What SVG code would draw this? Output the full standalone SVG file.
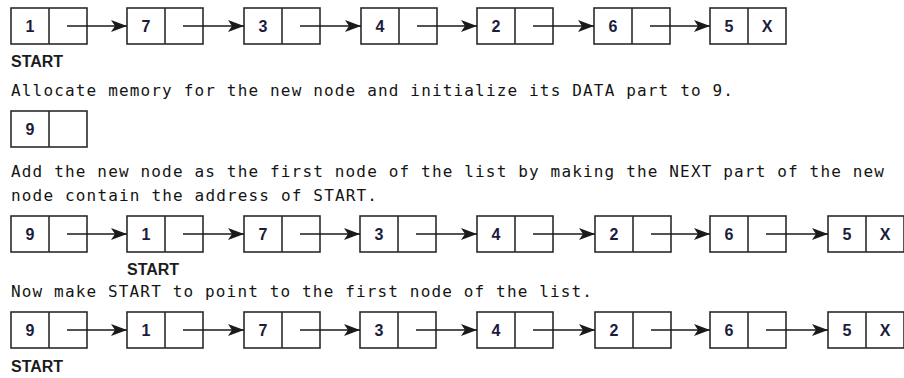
<svg xmlns="http://www.w3.org/2000/svg" width="904" height="378" viewBox="0 0 904 378">
  <style>
    .cell { fill: #ffffff; stroke: #2b2b2b; stroke-width: 1.6; }
    .div { stroke: #2b2b2b; stroke-width: 1.6; }
    .val { font-family: "Liberation Sans", Arial, sans-serif; font-weight: bold; font-size: 16px; fill: #1c1c3c; text-anchor: middle; }
    .lbl { font-family: "Liberation Sans", Arial, sans-serif; font-weight: bold; font-size: 16px; fill: #1c1c1c; }
    .note { font-family: "DejaVu Sans Mono", "Liberation Mono", monospace; font-size: 16px; fill: #141414; }
    .link { stroke: #1a1a1a; stroke-width: 1.5; fill: none; marker-end: url(#head); }
  </style>
  <defs>
    <marker id="head" markerUnits="userSpaceOnUse" viewBox="0 0 16 12" refX="16" refY="6" markerWidth="16" markerHeight="12" orient="auto">
      <path d="M0,0 L16,6 L0,12 L4,6 Z" fill="#1a1a1a"/>
    </marker>
    <!-- two-cell list node: DATA | NEXT -->
    <g id="cellpair">
      <rect class="cell" x="0" y="0" width="76" height="36"/>
      <line class="div" x1="38" y1="0" x2="38" y2="36"/>
    </g>
  </defs>

  <!-- captions -->
  <g id="captions">
    <text class="lbl" x="11" y="67">START</text>
    <text class="note" x="11" y="96" textLength="722" lengthAdjust="spacing">Allocate memory for the new node and initialize its DATA part to 9.</text>
    <text class="note" x="11" y="177" textLength="873" lengthAdjust="spacing">Add the new node as the first node of the list by making the NEXT part of the new</text>
    <text class="note" x="11" y="201" textLength="366" lengthAdjust="spacing">node contain the address of START.</text>
    <text class="lbl" x="127" y="275">START</text>
    <text class="note" x="11" y="297" textLength="581" lengthAdjust="spacing">Now make START to point to the first node of the list.</text>
    <text class="lbl" x="11" y="372">START</text>
  </g>

  <!-- row 1: original list -->
  <g id="r1n1"><use href="#cellpair" x="11" y="8"/><text class="val" x="30" y="32">1</text></g>
  <g id="r1n2"><use href="#cellpair" x="127" y="8"/><text class="val" x="146" y="32">7</text></g>
  <g id="r1n3"><use href="#cellpair" x="244" y="8"/><text class="val" x="263" y="32">3</text></g>
  <g id="r1n4"><use href="#cellpair" x="361" y="8"/><text class="val" x="380" y="32">4</text></g>
  <g id="r1n5"><use href="#cellpair" x="477" y="8"/><text class="val" x="496" y="32">2</text></g>
  <g id="r1n6"><use href="#cellpair" x="594" y="8"/><text class="val" x="613" y="32">6</text></g>
  <g id="r1n7"><use href="#cellpair" x="710" y="8"/><text class="val" x="729" y="32">5</text><text class="val" x="767" y="32">X</text></g>

  <!-- row 2: freshly allocated node -->
  <g id="r2n1"><use href="#cellpair" x="11" y="111"/><text class="val" x="30" y="135">9</text></g>

  <!-- row 3: new node linked in front -->
  <g id="r3n1"><use href="#cellpair" x="11" y="216"/><text class="val" x="30" y="240">9</text></g>
  <g id="r3n2"><use href="#cellpair" x="127" y="216"/><text class="val" x="146" y="240">1</text></g>
  <g id="r3n3"><use href="#cellpair" x="244" y="216"/><text class="val" x="263" y="240">7</text></g>
  <g id="r3n4"><use href="#cellpair" x="360" y="216"/><text class="val" x="379" y="240">3</text></g>
  <g id="r3n5"><use href="#cellpair" x="477" y="216"/><text class="val" x="496" y="240">4</text></g>
  <g id="r3n6"><use href="#cellpair" x="595" y="216"/><text class="val" x="614" y="240">2</text></g>
  <g id="r3n7"><use href="#cellpair" x="710" y="216"/><text class="val" x="729" y="240">6</text></g>
  <g id="r3n8"><use href="#cellpair" x="828" y="216"/><text class="val" x="847" y="240">5</text><text class="val" x="885" y="240">X</text></g>

  <!-- row 4: START moved to the new node -->
  <g id="r4n1"><use href="#cellpair" x="11" y="312"/><text class="val" x="30" y="336">9</text></g>
  <g id="r4n2"><use href="#cellpair" x="127" y="312"/><text class="val" x="146" y="336">1</text></g>
  <g id="r4n3"><use href="#cellpair" x="244" y="312"/><text class="val" x="263" y="336">7</text></g>
  <g id="r4n4"><use href="#cellpair" x="360" y="312"/><text class="val" x="379" y="336">3</text></g>
  <g id="r4n5"><use href="#cellpair" x="477" y="312"/><text class="val" x="496" y="336">4</text></g>
  <g id="r4n6"><use href="#cellpair" x="595" y="312"/><text class="val" x="614" y="336">2</text></g>
  <g id="r4n7"><use href="#cellpair" x="710" y="312"/><text class="val" x="729" y="336">6</text></g>
  <g id="r4n8"><use href="#cellpair" x="828" y="312"/><text class="val" x="847" y="336">5</text><text class="val" x="885" y="336">X</text></g>

  <!-- NEXT pointers -->
  <g id="connectors">
    <line class="link" x1="67" y1="26" x2="127" y2="26"/>
    <line class="link" x1="183" y1="26" x2="244" y2="26"/>
    <line class="link" x1="300" y1="26" x2="361" y2="26"/>
    <line class="link" x1="417" y1="26" x2="477" y2="26"/>
    <line class="link" x1="533" y1="26" x2="594" y2="26"/>
    <line class="link" x1="650" y1="26" x2="710" y2="26"/>

    <line class="link" x1="67" y1="234" x2="127" y2="234"/>
    <line class="link" x1="183" y1="234" x2="244" y2="234"/>
    <line class="link" x1="300" y1="234" x2="360" y2="234"/>
    <line class="link" x1="416" y1="234" x2="477" y2="234"/>
    <line class="link" x1="533" y1="234" x2="595" y2="234"/>
    <line class="link" x1="651" y1="234" x2="710" y2="234"/>
    <line class="link" x1="766" y1="234" x2="828" y2="234"/>

    <line class="link" x1="67" y1="330" x2="127" y2="330"/>
    <line class="link" x1="183" y1="330" x2="244" y2="330"/>
    <line class="link" x1="300" y1="330" x2="360" y2="330"/>
    <line class="link" x1="416" y1="330" x2="477" y2="330"/>
    <line class="link" x1="533" y1="330" x2="595" y2="330"/>
    <line class="link" x1="651" y1="330" x2="710" y2="330"/>
    <line class="link" x1="766" y1="330" x2="828" y2="330"/>
  </g>
</svg>
